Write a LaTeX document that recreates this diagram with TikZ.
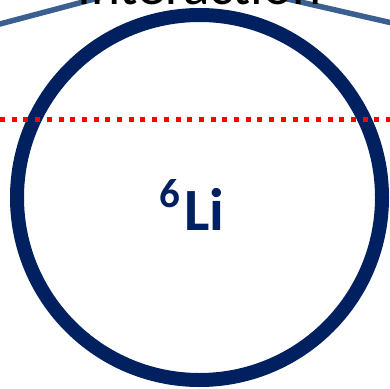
\documentclass[tikz,border=0pt]{standalone}
\usepackage{fontspec}
\setmainfont{Carlito}
\definecolor{navy}{HTML}{002060}
\definecolor{steel}{HTML}{3B5F8F}
\begin{document}
\begin{tikzpicture}[x=1pt,y=1pt,
  ring/.style={circle,draw=navy,line width=14pt,minimum size=365pt,inner sep=0pt},
  conn/.style={draw=steel,line width=5.5pt},
  cut/.style={draw=red,line width=5pt,dash pattern=on 5pt off 6.7pt},
  lbl/.style={inner sep=0pt,anchor=base west,text=navy,font=\bfseries}]
\useasboundingbox (0,0) rectangle (390,-388);
\clip (0,0) rectangle (390,-388);
\coordinate (l1) at (-10,-26.6);
\coordinate (l2) at (120,7.8);
\coordinate (r1) at (270,5);
\coordinate (r2) at (400,-24.8);
\draw[conn] (l1) -- (l2);
\draw[conn] (r1) -- (r2);
\node[inner sep=0pt,anchor=base,font=\fontsize{55}{60}\selectfont] (title) at (199.5,-5) {Interaction};
\node[ring] (atom) at (199.5,-197.5) {};
\coordinate (d1) at (0,-119);
\coordinate (d2) at (395,-119);
\draw[cut] (d1) -- (d2);
\node[lbl,font=\bfseries\fontsize{41}{44}\selectfont] (six) at (159,-207) {6};
\node[lbl,font=\bfseries\fontsize{60}{64}\selectfont] (li) at (184,-230) {Li};
\end{tikzpicture}
\end{document}
